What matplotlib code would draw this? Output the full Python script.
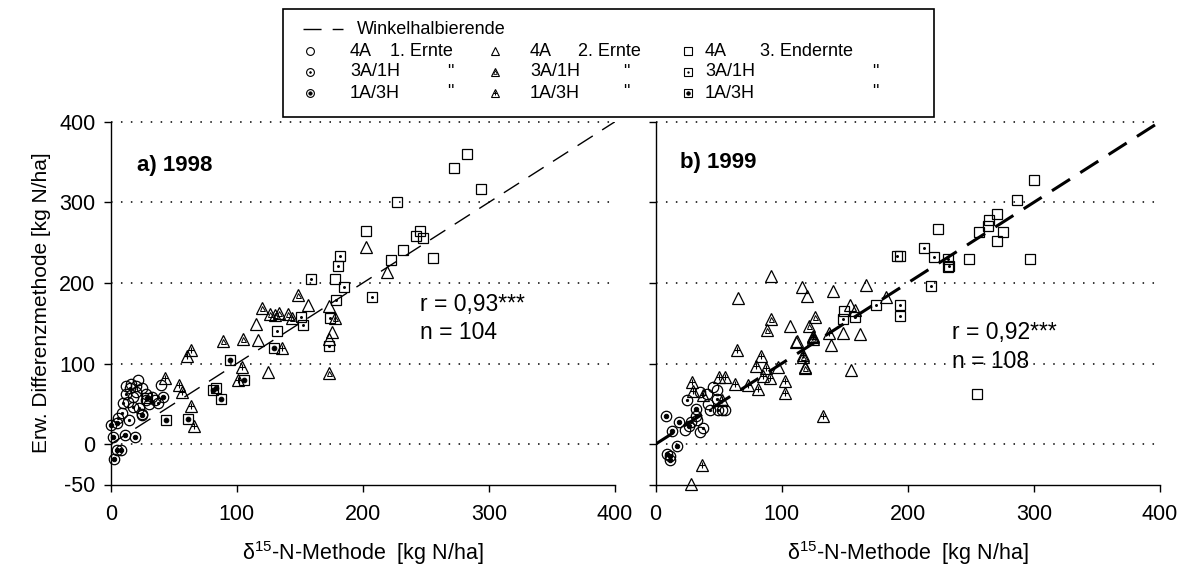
import matplotlib
matplotlib.use("Agg")
import matplotlib.pyplot as plt
from matplotlib.lines import Line2D
from matplotlib.patches import Rectangle

plt.rcParams['font.family'] = ['Liberation Sans', 'DejaVu Sans']
plt.rcParams['mathtext.fontset'] = 'custom'
plt.rcParams['mathtext.rm'] = 'Liberation Sans'
plt.rcParams['axes.unicode_minus'] = False

# ---------------- data 1998 ----------------
c4A_98 = [(12, 72), (16, 75), (20, 65), (25, 70), (28, 62), (33, 58), (40, 74), (35, 55),
          (22, 80), (18, 58), (30, 50), (14, 52)]
c3A_98 = [(8.7, 39), (14.8, 30), (24.6, 37), (18, 46), (22.5, 45.5), (37.8, 50.5), (10, 50.5),
          (15, 70), (12, 62), (28, 55), (20, 72), (6, 32)]
c1A_98 = [(2.6, -18), (4.7, -6.6), (7.9, -6.6), (1.6, 8.3), (11, 12), (19.5, 8.3), (0, 23.6),
          (5.2, 26.5), (24.6, 36), (41.5, 58)]
t4A_98 = [(115.3, 149), (117, 129), (125, 90), (156.8, 173), (173, 171), (175.4, 139.5),
          (173.5, 130), (202.6, 244), (219, 213)]
t3A_98 = [(89.4, 128), (105, 130), (148.4, 185), (119.8, 168.6), (126.4, 162), (130.4, 160),
          (133.8, 163), (141, 161.5), (143.7, 156), (178, 157), (173.5, 88.6)]
t1A_98 = [(63.7, 117), (60.8, 109), (104, 96), (101, 80), (43, 82), (54.5, 74), (56.3, 65),
          (63.7, 47), (66.3, 22), (135.7, 119)]
s4A_98 = [(227, 301), (202.6, 264), (245.5, 264), (242.3, 258), (248, 256), (232, 241),
          (222, 228.6), (256, 231), (178, 205), (272, 343), (283, 360), (294, 316)]
s3A_98 = [(182, 233.5), (180.6, 221), (159, 205), (185, 195), (178.8, 179), (207, 182),
          (150.8, 158), (152.4, 148), (174, 156), (173.5, 122), (131.7, 141)]
s1A_98 = [(129.6, 119.6), (94.7, 105), (105.8, 80), (81, 67), (83.6, 70), (87.3, 55.5),
          (43.9, 30), (61.6, 31), (29, 57)]

# ---------------- data 1999 ----------------
c4A_99 = [(35.3, 15), (32.7, 30), (23.4, 17), (52.5, 43), (45.8, 71), (49, 67), (35.3, 65),
          (40.6, 62), (55, 42), (42, 50)]
c3A_99 = [(25.2, 54.7), (37.4, 19.5), (43.2, 42), (49.8, 42), (48.5, 56), (32, 35), (28, 28)]
c1A_99 = [(8.1, 35), (13.3, 16.5), (18.6, 27.7), (26.8, 22.7), (32.1, 43.5), (16.8, -2.5),
          (8.9, -11.6), (11.5, -15), (11.5, -20)]
t4A_99 = [(28.2, -49), (65.2, 181), (91.6, 208.7), (116, 195.4), (120, 183.9), (141, 190.5),
          (167, 197.5), (182.5, 183), (154, 172.7), (158, 166), (106.7, 146.6), (149, 138),
          (162.4, 136.6), (111.7, 127), (139, 122.6), (97.4, 96), (155, 92), (112, 128),
          (118.6, 96)]
t3A_99 = [(91.6, 155), (88.7, 141.6), (126.7, 158), (121.5, 146.6), (125, 134), (125, 130),
          (117, 108.4), (118.6, 94)]
t1A_99 = [(37, -26), (28.7, 76.6), (30, 66), (37.4, 61), (50.6, 83.6), (55.1, 83.6),
          (52.5, 54.7), (63, 75), (73, 73), (81.5, 69), (65, 117), (84, 109), (80, 97),
          (88, 94), (85, 85), (90.8, 81.6), (103, 78.6), (103, 63), (117, 110.5),
          (125, 132.5), (137.6, 138), (133, 34.8)]
s4A_99 = [(223.8, 266.7), (231.7, 220), (300, 328), (287, 303), (270.6, 285), (264.5, 278),
          (264, 271), (256.8, 263), (275.8, 263), (270.6, 252.6), (248.8, 230), (297, 229.4),
          (194, 233.5), (149.5, 165.6), (255, 62)]
s3A_99 = [(191.8, 233.5), (213, 243), (221, 232.7), (231.7, 229.8), (218.5, 196),
          (194, 172.7), (194, 159), (174.9, 172.7), (148.5, 155), (158.5, 158), (232.7, 221)]

x_ticks = [0, 100, 200, 300, 400]
y_ticks = [-50, 0, 100, 200, 300, 400]
grid_y = [0, 100, 200, 300, 400]

W, H = 1183, 570
fig = plt.figure(figsize=(W / 100, H / 100), dpi=100)

def px(x0, y0, x1, y1):
    return [x0 / W, 1 - y1 / H, (x1 - x0) / W, (y1 - y0) / H]

ax1 = fig.add_axes(px(110.7, 121.7, 615, 484.5))
ax2 = fig.add_axes(px(655.5, 121.7, 1160, 484.5))

EW = 0.9
styles = {
    'c4A': ('o', 7.5, None, 0, False),
    'c3A': ('o', 7.5, 'o', 1.6, True),
    'c1A': ('o', 7.5, 'o', 3.2, True),
    't4A': ('^', 8.0, None, 0, False),
    't3A': ('^', 8.0, '^', 3.6, False),
    't1A': ('^', 8.0, '+', 4.5, False),
    's4A': ('s', 6.8, None, 0, False),
    's3A': ('s', 6.8, 'o', 1.4, True),
    's1A': ('s', 6.8, 'o', 3.4, True),
}

def draw(ax, key, pts):
    xs = [p[0] for p in pts]
    ys = [p[1] for p in pts]
    m, ms, im, ims, fill = styles[key]
    ax.plot(xs, ys, ls='none', marker=m, ms=ms, mfc='none', mec='black', mew=EW,
            clip_on=False, zorder=3)
    if im is not None:
        if im == '+':
            ax.plot(xs, ys, ls='none', marker='+', ms=ims, mec='black', mew=0.8,
                    clip_on=False, zorder=4)
        else:
            ax.plot(xs, ys, ls='none', marker=im, ms=ims,
                    mfc='black' if fill else 'none', mec='black', mew=0.7,
                    clip_on=False, zorder=4)

for ax in (ax1, ax2):
    ax.set_xlim(0, 400)
    ax.set_ylim(-50, 400)
    for s in ('top', 'right'):
        ax.spines[s].set_visible(False)
    for s in ('left', 'bottom'):
        ax.spines[s].set_linewidth(1.0)
    ax.set_xticks(x_ticks)
    ax.set_yticks(y_ticks)
    ax.tick_params(direction='out', length=5, width=1.0, labelsize=15.5)
    ax.tick_params(axis='x', pad=9)
    ax.tick_params(axis='y', pad=6)
    for g in grid_y:
        ax.axhline(g, color='black', lw=1.1, ls=(0, (1, 5.5)), clip_on=False, zorder=1)
    ax.set_xlabel(r'δ$^{\mathrm{15}}$-N-Methode  [kg N/ha]', fontsize=15.5, labelpad=10)

ax2.set_yticklabels([])
ax1.set_ylabel('Erw. Differenzmethode [kg N/ha]', fontsize=15, labelpad=6)

ax1.plot([0, 400], [0, 400], color='black', lw=1.0, ls=(0, (13, 8)), zorder=2)
ax2.plot([0, 400], [0, 400], color='black', lw=2.2, ls=(0, (7, 4)), zorder=2)

for key, pts in [('c4A', c4A_98), ('c3A', c3A_98), ('c1A', c1A_98),
                 ('t4A', t4A_98), ('t3A', t3A_98), ('t1A', t1A_98),
                 ('s4A', s4A_98), ('s3A', s3A_98), ('s1A', s1A_98)]:
    draw(ax1, key, pts)
for key, pts in [('c4A', c4A_99), ('c3A', c3A_99), ('c1A', c1A_99),
                 ('t4A', t4A_99), ('t3A', t3A_99), ('t1A', t1A_99),
                 ('s4A', s4A_99), ('s3A', s3A_99)]:
    draw(ax2, key, pts)

ax1.text(20.6, 346, 'a) 1998', fontsize=16, fontweight='bold', va='center', ha='left')
ax2.text(19.4, 349, 'b) 1999', fontsize=16, fontweight='bold', va='center', ha='left')
ax1.text(245, 173, 'r = 0,93***', fontsize=16.5, va='center', ha='left')
ax1.text(245, 138, 'n = 104', fontsize=16.5, va='center', ha='left')
ax2.text(235, 138, 'r = 0,92***', fontsize=16.5, va='center', ha='left')
ax2.text(235, 103, 'n = 108', fontsize=16.5, va='center', ha='left')

# ---------------- legend (manual) ----------------
def fx(x):
    return x / W

def fy(y):
    return 1 - y / H

fig.patches.append(Rectangle((fx(283), fy(117)), fx(934) - fx(283), (117 - 9) / H,
                             transform=fig.transFigure, fill=False, ec='black', lw=1.2))
rows = [29, 51, 72, 93]
fs_leg = 13
fig.lines.append(Line2D([fx(303), fx(343)], [fy(rows[0])] * 2, transform=fig.transFigure,
                        color='black', lw=1.0, ls=(0, (13, 8))))
fig.text(fx(357), fy(rows[0]), 'Winkelhalbierende', fontsize=fs_leg, va='center', ha='left')

leg_cols = [(310, 350, 390, 447), (495, 530, 578, 623), (688, 705, 760, 872)]
shapes = ['c', 't', 's']
names = ['4A', '3A/1H', '1A/3H']
suffix = ['4A', '3A', '1A']
first_row_text = ['1. Ernte', '2. Ernte', '3. Endernte']

lax = fig.add_axes([0, 0, 1, 1], facecolor='none')
lax.set_xlim(0, W)
lax.set_ylim(H, 0)
lax.axis('off')
for ci, (mx, tx1, tx2, dx) in enumerate(leg_cols):
    for ri in range(3):
        y = rows[ri + 1]
        key = shapes[ci] + suffix[ri]
        m, ms, im, ims, fill = styles[key]
        scale = 0.75
        lax.plot([mx], [y], ls='none', marker=m, ms=ms * scale, mfc='none', mec='black', mew=0.8)
        if im is not None:
            if im == '+':
                lax.plot([mx], [y], ls='none', marker='+', ms=ims * scale, mec='black', mew=0.7)
            else:
                lax.plot([mx], [y], ls='none', marker=im, ms=ims * scale,
                         mfc='black' if fill else 'none', mec='black', mew=0.6)
        lax.text(tx1, y, names[ri], fontsize=fs_leg, va='center', ha='left')
        if ri == 0:
            lax.text(tx2, y, first_row_text[ci], fontsize=fs_leg, va='center', ha='left')
        else:
            lax.text(dx, y, '"', fontsize=fs_leg, va='center', ha='left')

fig.savefig('out.png', dpi=100)
